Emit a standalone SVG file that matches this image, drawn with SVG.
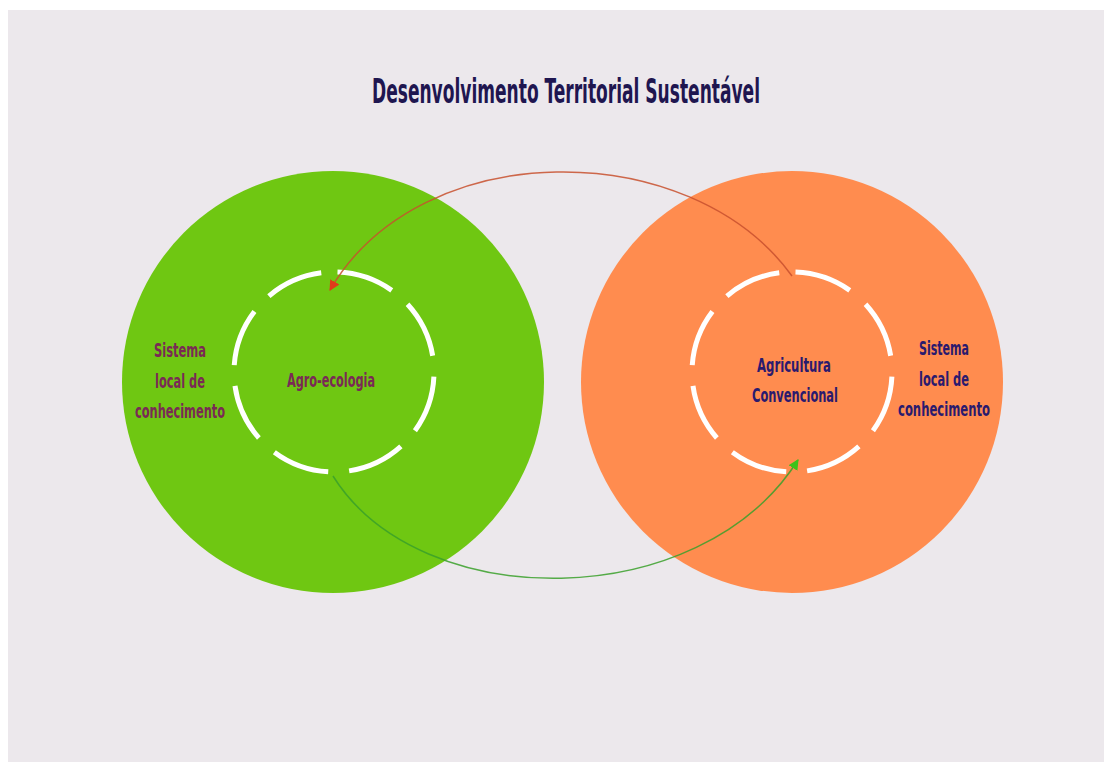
<svg xmlns="http://www.w3.org/2000/svg" width="1111" height="771" viewBox="0 0 1111 771">
<style>
.ring{fill:none;stroke:#ffffff;stroke-width:5;stroke-dasharray:58 21}
.lbl{font-family:"Liberation Sans Narrow","DejaVu Sans Condensed","Liberation Sans",sans-serif;font-size:20px;font-weight:bold;text-anchor:middle}
.l{fill:#7a2a55}
.r{fill:#2a1a6e}
</style>
<defs>
<marker id="ar" viewBox="0 0 10 10" refX="9" refY="5" markerWidth="7" markerHeight="7" orient="auto"><path d="M0 0 L10 5 L0 10 z" fill="#e03a1a"/></marker>
<marker id="ag" viewBox="0 0 10 10" refX="9" refY="5" markerWidth="7" markerHeight="7" orient="auto"><path d="M0 0 L10 5 L0 10 z" fill="#3cc21a"/></marker>
</defs>
<rect width="1111" height="771" fill="#ffffff"/>
<rect x="8" y="10" width="1096" height="752" fill="#ece8ec"/>
<text x="566" y="103" font-family="'Liberation Sans Narrow','DejaVu Sans Condensed','Liberation Sans',sans-serif" font-size="34" font-weight="bold" fill="#1f1650" text-anchor="middle" textLength="388" lengthAdjust="spacingAndGlyphs">Desenvolvimento Territorial Sustentável</text>
<g id="green">
<circle cx="333" cy="382" r="211" fill="#6fc712"/>
<circle class="ring" cx="334" cy="372" r="100" transform="rotate(-88 334 372)"/>
<text class="lbl l" x="331" y="387" textLength="88" lengthAdjust="spacingAndGlyphs">Agro-ecologia</text>
<text class="lbl l" x="180" y="357" textLength="52" lengthAdjust="spacingAndGlyphs">Sistema</text>
<text class="lbl l" x="180" y="388" textLength="50" lengthAdjust="spacingAndGlyphs">local de</text>
<text class="lbl l" x="180" y="418" textLength="90" lengthAdjust="spacingAndGlyphs">conhecimento</text>
</g>
<g id="orange">
<circle cx="792" cy="382" r="211" fill="#ff8c4f"/>
<circle class="ring" cx="792" cy="372" r="100" transform="rotate(-88 792 372)"/>
<text class="lbl r" x="794" y="372" textLength="74" lengthAdjust="spacingAndGlyphs">Agricultura</text>
<text class="lbl r" x="795" y="402" textLength="86" lengthAdjust="spacingAndGlyphs">Convencional</text>
<text class="lbl r" x="944" y="355" textLength="50" lengthAdjust="spacingAndGlyphs">Sistema</text>
<text class="lbl r" x="944" y="386" textLength="50" lengthAdjust="spacingAndGlyphs">local de</text>
<text class="lbl r" x="944" y="416" textLength="92" lengthAdjust="spacingAndGlyphs">conhecimento</text>
</g>
<g id="connectors" fill="none" stroke-width="1.5">
<path d="M792 276 C690 135 420 135 330 290" stroke="#c8502e" stroke-opacity="0.85" marker-end="url(#ar)"/>
<path d="M333 476 C420 615 700 615 798 460" stroke="#3aa02a" stroke-opacity="0.85" marker-end="url(#ag)"/>
</g>
</svg>
